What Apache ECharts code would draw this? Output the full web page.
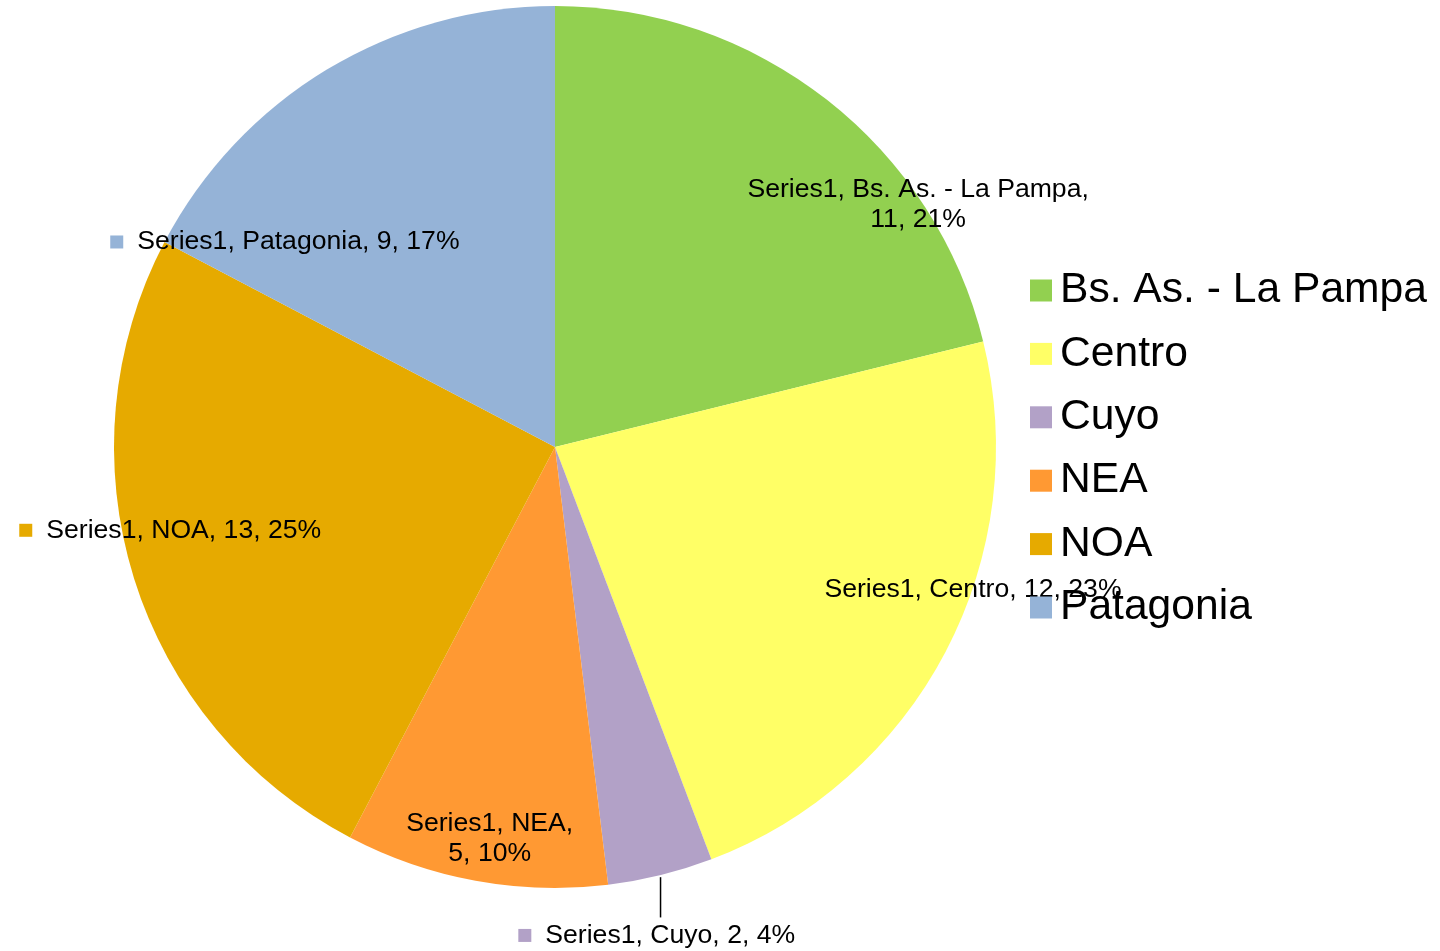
<!DOCTYPE html>
<html><head><meta charset="utf-8">
<script src="https://cdn.jsdelivr.net/npm/echarts@6/dist/echarts.min.js"></script>
<style>html,body{margin:0;padding:0;background:#fff}#c{width:1440px;height:951px}</style>
</head><body><div id="c"></div>
<script>
const seriesName = 'Series1';
const categories = ['Bs. As. - La Pampa', 'Centro', 'Cuyo', 'NEA', 'NOA', 'Patagonia'];
const values = [11, 12, 2, 5, 13, 9];
const colors = ['#92D050', '#FFFF66', '#B2A1C7', '#FF9933', '#E6AA00', '#95B3D7'];

// label placement only: angle clockwise from 12 o'clock (deg), distance as fraction of radius
const labelAngle = [56.1, 108.6, 168.2, 189.5, 258.0, 307.4];
const labelDist = [0.992, 1.0, 1.128, 0.897, 0.892, 0.771];
const labelKey = [false, false, true, false, true, true];
const labelWrap = [true, false, false, true, false, false];
const labelLeader = [false, false, true, false, false, false];

const CX = 555, CY = 447, R = 441;
const TEXT_DY = 1.5;
const FONT = 'Liberation Sans, Arial, sans-serif';
const total = values.reduce((a, b) => a + b, 0);

const rich = { s: { width: 14 }, t: { fontSize: 26.6, lineHeight: 30, color: '#000', fontFamily: FONT } };
colors.forEach((c, i) => { rich['k' + i] = { width: 13, height: 13, backgroundColor: c }; });

const chart = echarts.init(document.getElementById('c'), null, { renderer: 'canvas' });
chart.setOption({
  animation: false,
  backgroundColor: '#fff',
  color: colors,
  legend: {
    orient: 'vertical', left: 1025, top: 264,
    itemWidth: 22, itemHeight: 22, itemGap: 20.4, icon: 'rect',
    selectedMode: false,
    textStyle: { fontSize: 42.6, lineHeight: 41, color: '#000', fontFamily: FONT, padding: [0, 0, 0, 3] },
    data: categories
  },
  series: [{
    type: 'pie',
    name: seriesName,
    center: [CX, CY],
    radius: R,
    startAngle: 90,
    clockwise: true,
    avoidLabelOverlap: false,
    percentPrecision: 0,
    silent: true,
    itemStyle: { borderWidth: 0 },
    emphasis: { disabled: true },
    label: {
      show: true,
      position: 'outside',
      alignTo: 'none',
      color: '#000',
      fontSize: 26.6,
      lineHeight: 30,
      fontFamily: FONT,
      formatter: function (p) {
        const i = p.dataIndex;
        const pct = Math.round(values[i] / total * 100) + '%';
        let txt = labelWrap[i]
          ? seriesName + ', ' + categories[i] + ',\n' + values[i] + ', ' + pct
          : seriesName + ', ' + categories[i] + ', ' + values[i] + ', ' + pct;
        if (labelKey[i]) return '{k' + i + '|}{s|}{t|' + txt + '}';
        return txt;
      },
      rich: rich
    },
    labelLine: { show: false, lineStyle: { color: '#000', width: 1.5 } },
    labelLayout: function (p) {
      const i = p.dataIndex;
      const a = labelAngle[i] * Math.PI / 180;
      const x = CX + labelDist[i] * R * Math.sin(a);
      const y = CY - labelDist[i] * R * Math.cos(a) + TEXT_DY;
      const res = { x: x, y: y, align: 'center', verticalAlign: 'middle' };
      if (labelLeader[i]) {
        let start = 0;
        for (let k = 0; k < i; k++) start += values[k];
        const mid = (start + values[i] / 2) / total * 2 * Math.PI;
        const lx = CX + R * Math.sin(mid), ly = CY - R * Math.cos(mid);
        const ey = y - p.labelRect.height / 2 - 3;
        res.labelLinePoints = [[lx, ly + 2], [lx, (ly + ey) / 2], [lx, ey]];
      }
      return res;
    },
    data: categories.map((c, i) => ({
      name: c,
      value: values[i],
      labelLine: { show: labelLeader[i] }
    }))
  }]
});
</script>
</body></html>
